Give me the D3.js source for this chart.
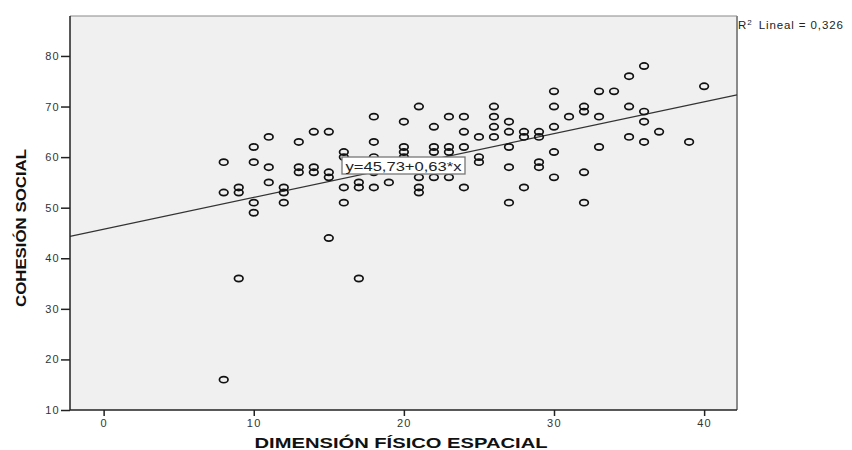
<!DOCTYPE html>
<html><head><meta charset="utf-8">
<script src="https://cdn.jsdelivr.net/npm/d3@7"></script>
<style>body{margin:0;background:#fff;} svg{display:block;}</style>
</head><body>
<svg id="chart" width="852" height="450"></svg>
<script>
// Data: each group = [x value, list of y values]
const xVals = [8,9,10,11,12,13,14,15,16,17,18,19,20,21,22,23,24,25,26,27,28,29,30,31,32,33,34,35,36,37,39,40];
const yGroups = [
  [59,53,16],[54,53,36],[62,59,51,49],[64,58,55],[54,53,51],[63,58,57],[65,58,57],[65,57,56,44],
  [61,60,54,51],[55,54,36],[68,63,60,57,54],[55],[67,62,61,60],[70,56,54,53],[66,62,61,56],
  [68,62,61,56],[68,65,62,54],[64,60,59],[70,68,66,64],[67,65,62,58,51],[65,64,54],[65,64,59,58],
  [73,70,66,61,56],[68],[70,69,57,51],[73,68,62],[73],[76,70,64],[78,69,67,63],[65],[63],[74]
];
const xTicks = [0,10,20,30,40];
const yTicks = [10,20,30,40,50,60,70,80];
const intercept = 45.73, slope = 0.63;
const fitLabel = "y=45,73+0,63*x";
const r2Label = "0,326";
const xTitle = "DIMENSIÓN FÍSICO ESPACIAL";
const yTitle = "COHESIÓN SOCIAL";

const points = [];
xVals.forEach((xv,i)=>yGroups[i].forEach(yv=>points.push({x:xv,y:yv})));

const L=70, R=737, T=16, B=410;
const x = d3.scaleLinear().domain([-2.24, 42.19]).range([L,R]);
const y = d3.scaleLinear().domain([10, 87.9]).range([B,T]);
const svg = d3.select("#chart");
const FONT = "Liberation Sans, Arial, sans-serif";

svg.append("rect").attr("x",L).attr("y",T).attr("width",R-L).attr("height",B-T).attr("fill","#f0f0f0");
svg.append("line").attr("x1",L).attr("x2",R).attr("y1",T).attr("y2",T).attr("stroke","#8a8a8a").attr("stroke-width",1.2);
svg.append("line").attr("x1",R).attr("x2",R).attr("y1",T).attr("y2",B).attr("stroke","#8a8a8a").attr("stroke-width",2);

// regression line
const xd = x.domain();
svg.append("line")
  .attr("x1",x(xd[0])).attr("y1",y(intercept+slope*xd[0]))
  .attr("x2",x(xd[1])).attr("y2",y(intercept+slope*xd[1]))
  .attr("stroke","#333").attr("stroke-width",1.2);

// points
svg.append("g").selectAll("ellipse").data(points).join("ellipse")
  .attr("cx",d=>x(d.x)).attr("cy",d=>y(d.y))
  .attr("rx",4.3).attr("ry",3.1)
  .attr("fill","none").attr("stroke","#111").attr("stroke-width",1.7);

// axes
const yAxis = svg.append("g").attr("transform",`translate(${L},0)`)
  .call(d3.axisLeft(y).tickValues(yTicks).tickSize(9).tickPadding(2));
const xAxis = svg.append("g").attr("transform",`translate(0,${B})`)
  .call(d3.axisBottom(x).tickValues(xTicks).tickSize(6).tickPadding(3));
[xAxis,yAxis].forEach(g=>{
  g.select(".domain").attr("stroke","#222").attr("stroke-width",1.5);
  g.selectAll(".tick line").attr("stroke","#222").attr("stroke-width",1.5);
  g.selectAll(".tick text").attr("fill","#333").attr("font-family",FONT).attr("font-size",11)
    .attr("letter-spacing","1.3px");
});
yAxis.selectAll(".tick text").attr("dx","1px");
yAxis.select(".domain").attr("d",`M0,${T}V${B}`);
xAxis.select(".domain").attr("d",`M${L},0H${R}`);

// fit label
const lg = svg.append("g");
lg.append("rect").attr("x",342).attr("y",157).attr("width",123).attr("height",17)
  .attr("fill","#fff").attr("stroke","#777").attr("stroke-width",1.3);
lg.append("text").attr("x",345.5).attr("y",170.5)
  .attr("font-family",FONT).attr("font-size",13.5).attr("fill","#222")
  .attr("textLength",116).attr("lengthAdjust","spacingAndGlyphs")
  .text(fitLabel);

// R2 label
const rt = svg.append("text").attr("x",738).attr("y",29)
  .attr("font-family",FONT).attr("font-size",11.5).attr("fill","#222").attr("letter-spacing","0.9px");
rt.append("tspan").text("R");
rt.append("tspan").attr("font-size",8).attr("dy",-4).text("2");
rt.append("tspan").attr("dy",4).attr("dx",2).text(" Lineal = " + r2Label);

// axis titles
svg.append("text").attr("x",401).attr("y",448).attr("text-anchor","middle")
  .attr("font-family",FONT).attr("font-weight","bold").attr("font-size",15)
  .attr("textLength",293).attr("lengthAdjust","spacingAndGlyphs").attr("fill","#111")
  .text(xTitle);
svg.append("text").attr("transform","translate(26,228) rotate(-90)").attr("text-anchor","middle")
  .attr("font-family","Liberation Sans Narrow, Arial Narrow, sans-serif").attr("font-weight","bold").attr("font-size",15.5)
  .attr("textLength",158).attr("lengthAdjust","spacingAndGlyphs").attr("fill","#111")
  .text(yTitle);
</script>
</body></html>
